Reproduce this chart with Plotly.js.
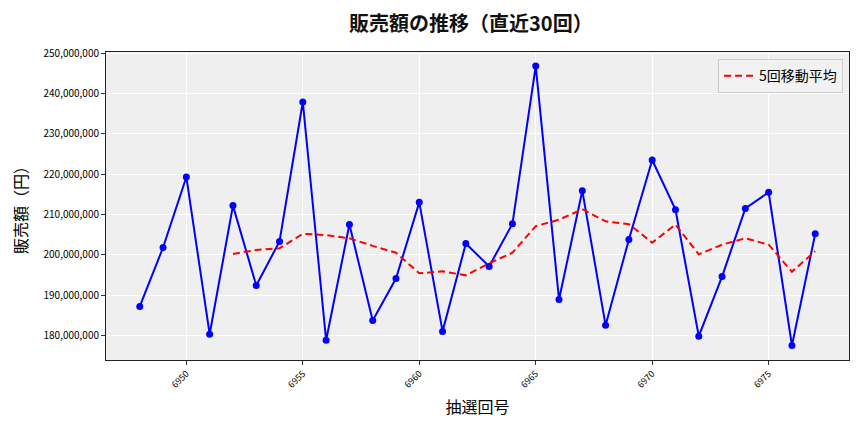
<!DOCTYPE html>
<html>
<head>
<meta charset="utf-8">
<script src="https://cdn.plot.ly/plotly-3.0.1.min.js"></script>
<style>html,body{margin:0;padding:0;background:#fff;}</style>
</head>
<body>
<div id="chart" style="width:864px;height:432px;"></div>
<script>
const draws = [6948,6949,6950,6951,6952,6953,6954,6955,6956,6957,6958,6959,6960,6961,6962,6963,6964,6965,6966,6967,6968,6969,6970,6971,6972,6973,6974,6975,6976,6977];
const sales = [187.2,201.8,219.3,180.3,212.2,192.4,203.3,237.9,178.8,207.5,183.7,194.1,213.0,181.0,202.8,197.1,207.7,246.8,188.9,215.9,182.5,203.8,223.5,211.2,179.8,194.6,211.5,215.5,177.5,205.2].map(v => v * 1e6);
const maDraws = [6952,6953,6954,6955,6956,6957,6958,6959,6960,6961,6962,6963,6964,6965,6966,6967,6968,6969,6970,6971,6972,6973,6974,6975,6976,6977];
const maValues = [200.2,201.2,201.6,205.2,204.9,204.1,202.2,200.5,195.4,195.9,194.9,197.9,200.5,207.1,208.7,211.3,208.3,207.6,203.0,207.5,200.1,202.5,204.1,202.5,195.8,200.9].map(v => v * 1e6);
const titleText = '販売額の推移（直近30回）';
const xTitle = '抽選回号';
const yTitle = '販売額（円）';
const maName = '5回移動平均';

const font = '"Noto Sans CJK JP", "Noto Sans", sans-serif';

const traces = [
  {
    x: draws, y: sales, type: 'scatter', mode: 'lines+markers',
    line: {color: '#0000ff', width: 2},
    marker: {color: '#0000ff', size: 7},
    showlegend: false, name: '販売額'
  },
  {
    x: maDraws, y: maValues, type: 'scatter', mode: 'lines',
    line: {color: '#ff0000', width: 2, dash: '7px,4px'},
    name: maName
  }
];

const layout = {
  width: 864, height: 432,
  margin: {l: 106, r: 15, t: 52, b: 72},
  paper_bgcolor: '#ffffff',
  plot_bgcolor: '#efefef',
  font: {family: font, color: '#000'},
  title: {text: '<b>' + titleText + '</b>', x: 0.545, xanchor: 'center', y: 0.945, yanchor: 'middle', font: {size: 20, family: font, color: '#111'}},
  xaxis: {
    range: [6946.55, 6978.45],
    tickvals: [6950, 6955, 6960, 6965, 6970, 6975],
    ticktext: ['6950','6955','6960','6965','6970','6975'],
    tickangle: -45,
    tickfont: {size: 9, family: font},
    ticks: 'outside', ticklen: 4, tickcolor: '#333',
    showgrid: true, gridcolor: '#ffffff', gridwidth: 1,
    showline: true, linecolor: '#222', linewidth: 1, mirror: true,
    zeroline: false,
    title: {text: xTitle, font: {size: 16, family: font}, standoff: 12}
  },
  yaxis: {
    range: [173.9e6, 250.3e6],
    tickvals: [180e6,190e6,200e6,210e6,220e6,230e6,240e6,250e6],
    tickformat: ',d',
    tickfont: {size: 10, family: font},
    ticks: 'outside', ticklen: 4, tickcolor: '#333',
    showgrid: true, gridcolor: '#ffffff', gridwidth: 1,
    showline: true, linecolor: '#222', linewidth: 1, mirror: true,
    zeroline: false,
    title: {text: yTitle, font: {size: 16, family: font}, standoff: 11}
  },
  legend: {
    x: 0.992, xanchor: 'right', y: 0.977, yanchor: 'top',
    bgcolor: 'rgba(242,242,242,0.9)', bordercolor: '#cccccc', borderwidth: 1,
    font: {size: 14, family: font}
  }
};

Plotly.newPlot('chart', traces, layout, {displayModeBar: false, staticPlot: true});
</script>
</body>
</html>
